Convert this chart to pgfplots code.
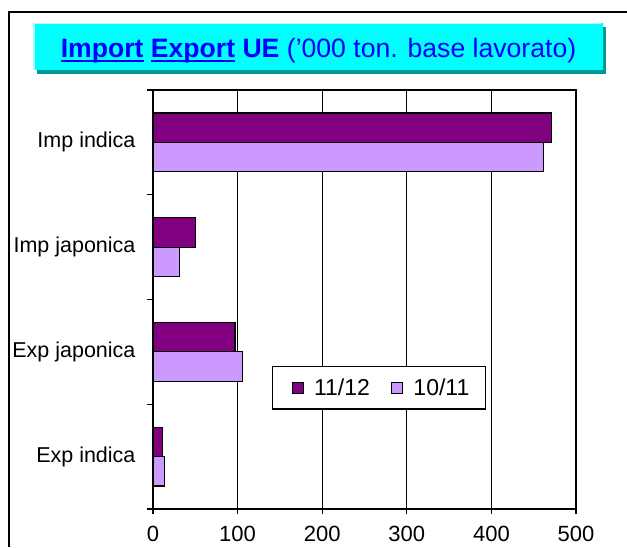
\documentclass[border=0pt]{standalone}
\usepackage{fontspec}
\setmainfont{Liberation Sans}
\usepackage{pgfplots}
\pgfplotsset{compat=1.18}
\definecolor{c1112}{RGB}{128,0,128}
\definecolor{c1011}{RGB}{204,153,255}
\definecolor{titleblue}{RGB}{0,0,255}
\definecolor{tcyan}{RGB}{0,255,255}
\definecolor{tshadow}{RGB}{0,153,153}
\definecolor{thl}{RGB}{170,255,255}
\newcommand\ul[1]{\setbox0\hbox{#1}\rlap{\rule[-3.8pt]{\wd0}{2.2pt}}\box0\relax}
\pgfplotsset{mylegend/.style={legend image code/.code={\path[draw=none,fill=none] (0pt,0pt) -- (6pt,0pt);\draw[#1,draw=black,line width=1.2pt] (6pt,-5.5pt) rectangle (17pt,5.5pt);}}}
\begin{document}
\begin{tikzpicture}[x=1pt,y=1pt]
\useasboundingbox (0,0) rectangle (627,547);
\fill[white] (0,0) rectangle (627,547);
\draw[line width=1.6pt] (9,0) -- (9,535) -- (627,535);
\fill[tshadow] (37,473) rectangle (606,520);
\fill[tcyan] (33,477) rectangle (603,524);
\draw[thl,line width=1.5pt] (33.75,477) -- (33.75,523.25) -- (601,523.25);
\node[anchor=base, text=titleblue, font=\fontsize{26.6}{30}\selectfont, inner sep=0pt] at (318.5,489) {\ul{\textbf{Import}} \ul{\textbf{Export}} \textbf{UE} (’000 ton. base lavorato)};
\begin{axis}[
  at={(153pt,38pt)}, anchor=south west, scale only axis,
  width=423pt, height=419pt,
  xmin=0, xmax=500, ymin=-0.5, ymax=3.5,
  xtick={0,100,200,300,400,500},
  ytick={0,1,2,3},
  yticklabels={Exp indica, Exp japonica, Imp japonica, Imp indica},
  minor ytick={-0.5,0.5,1.5,2.5,3.5},
  major y tick style={draw=none},
  minor y tick style={black,line width=1.2pt},
  major x tick style={black,line width=1.2pt},
  minor tick length=6pt, major tick length=5pt,
  tick align=outside,
  ytick pos=left, xtick pos=bottom,
  xmajorgrids,
  major x grid style={black,line width=1.2pt},
  axis line style={line width=1.6pt},
  xticklabel style={font=\fontsize{22}{26}\selectfont, yshift=-9pt},
  yticklabel style={font=\fontsize{21.5}{26}\selectfont, xshift=-9pt},
  /pgf/number format/assume math mode=true,
  legend style={at={(0.534,0.289)}, anchor=center, draw=black, line width=1.2pt,
    font=\fontsize{23}{27}\selectfont,
    inner xsep=14pt, inner ysep=10pt,
    /tikz/column 2/.style={column sep=14pt},
    /tikz/column 1/.style={column sep=8pt},
    /tikz/column 3/.style={column sep=8pt}},
  legend columns=2,
]
\addplot[xbar, bar width=0.28, bar shift=0.14, fill=c1112, draw=black, line width=1.2pt, mylegend]
  coordinates {(471,3) (50,2) (97,1) (11,0)};
\addplot[xbar, bar width=0.28, bar shift=-0.14, fill=c1011, draw=black, line width=1.2pt, mylegend]
  coordinates {(462,3) (31,2) (106,1) (13.5,0)};
\legend{11/12, 10/11}
\end{axis}
\end{tikzpicture}
\end{document}
